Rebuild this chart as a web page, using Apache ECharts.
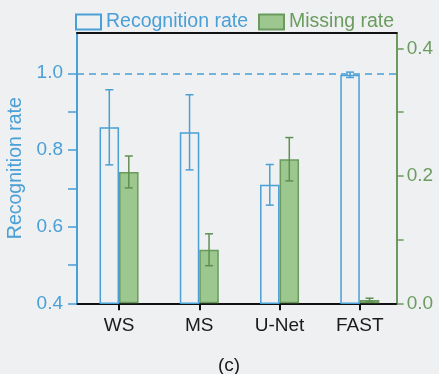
<!DOCTYPE html>
<html>
<head>
<meta charset="utf-8">
<script src="https://cdn.jsdelivr.net/npm/echarts@6/dist/echarts.min.js"></script>
<style>
  html, body { margin: 0; padding: 0; background: #eef0f2; }
  #chart { width: 439px; height: 374px; }
</style>
</head>
<body>
<div id="chart"></div>
<script>
// Methods compared
const categories = ['WS', 'MS', 'U-Net', 'FAST'];

// Recognition rate (left axis): mean and symmetric error
const recognitionRate = [0.859, 0.846, 0.709, 0.996];
const recognitionErr  = [0.098, 0.098, 0.053, 0.007];

// Missing rate (right axis): mean and symmetric error
const missingRate = [0.206, 0.084, 0.226, 0.005];
const missingErr  = [0.025, 0.025, 0.034, 0.003];

// Axis ticks and labels
const leftTicks   = [0.4, 0.5, 0.6, 0.7, 0.8, 0.9, 1.0];
const leftLabels  = [0.4, 0.6, 0.8, 1.0];
const rightTicks  = [0.0, 0.1, 0.2, 0.3, 0.4];
const rightLabels = [0.0, 0.2, 0.4];
const catPositions = [1, 2, 3, 4];

const BLUE = '#4a9fd6';
const GREEN_FILL = '#9cc78f';
const GREEN_EDGE = '#6a9b5d';
const GREEN_TEXT = '#6b9c5f';
const FONT = '"Liberation Sans", Arial, sans-serif';
const BAR_W = 19.5;
const CAP_W = 8;

const xMin = 0.476, xMax = 4.46;

function pairs(vals) {
  return vals.map((v, i) => [catPositions[i], v]);
}
function errRows(vals, errs) {
  return vals.map((v, i) => [catPositions[i], v - errs[i], v + errs[i]]);
}

function errorBar(offsetPx, color) {
  return function (params, api) {
    const x = api.value(0);
    const pLo = api.coord([x, api.value(1)]);
    const pHi = api.coord([x, api.value(2)]);
    const cx = pLo[0] + offsetPx;
    const h = CAP_W / 2;
    const style = { stroke: color, lineWidth: 1.5 };
    return {
      type: 'group',
      children: [
        { type: 'line', shape: { x1: cx, y1: pHi[1], x2: cx, y2: pLo[1] }, style: style },
        { type: 'line', shape: { x1: cx - h, y1: pHi[1], x2: cx + h, y2: pHi[1] }, style: style },
        { type: 'line', shape: { x1: cx - h, y1: pLo[1], x2: cx + h, y2: pLo[1] }, style: style }
      ]
    };
  };
}

const chart = echarts.init(document.getElementById('chart'), null, { renderer: 'canvas' });

chart.setOption({
  backgroundColor: '#eef0f2',
  animation: false,
  textStyle: { fontFamily: FONT },
  grid: { left: 77, right: 42.3, top: 33, bottom: 70.7, containLabel: false, outerBoundsMode: 'none' },
  legend: {
    left: 75,
    top: 12,
    padding: 0,
    icon: 'rect',
    itemWidth: 25,
    itemHeight: 15,
    itemGap: 10,
    textStyle: { fontSize: 19.5, fontFamily: FONT },
    data: [
      { name: 'Recognition rate', textStyle: { color: BLUE } },
      { name: 'Missing rate', textStyle: { color: GREEN_TEXT } }
    ]
  },
  xAxis: [
    {
      type: 'value',
      min: xMin,
      max: xMax,
      position: 'bottom',
      splitLine: { show: false },
      axisLine: { show: true, lineStyle: { color: '#111', width: 2 } },
      axisTick: { show: true, customValues: catPositions, length: 7, lineStyle: { color: '#111', width: 2 } },
      axisLabel: {
        customValues: catPositions,
        formatter: v => categories[Math.round(v) - 1],
        color: '#1a1a1a',
        fontSize: 19,
        fontFamily: FONT,
        margin: 13
      }
    },
    {
      type: 'value',
      min: xMin,
      max: xMax,
      position: 'top',
      splitLine: { show: false },
      axisLine: { show: true, lineStyle: { color: '#111', width: 2 } },
      axisTick: { show: false },
      axisLabel: { show: false }
    }
  ],
  yAxis: [
    {
      type: 'value',
      min: 0.4,
      max: 1.105,
      position: 'left',
      name: 'Recognition rate',
      nameLocation: 'middle',
      nameGap: 48,
      nameTextStyle: { color: BLUE, fontSize: 19.5, fontFamily: FONT },
      splitLine: { show: false },
      axisLine: { show: true, lineStyle: { color: BLUE, width: 2 } },
      axisTick: { show: true, customValues: leftTicks, length: 9, inside: false, lineStyle: { color: BLUE, width: 1.5 } },
      axisLabel: {
        customValues: leftLabels,
        formatter: v => v.toFixed(1),
        color: BLUE,
        fontSize: 19,
        fontFamily: FONT,
        margin: 14
      }
    },
    {
      type: 'value',
      min: 0,
      max: 0.424,
      position: 'right',
      splitLine: { show: false },
      axisLine: { show: true, lineStyle: { color: GREEN_EDGE, width: 2 } },
      axisTick: { show: true, customValues: rightTicks, length: 7, inside: false, lineStyle: { color: GREEN_EDGE, width: 1.5 } },
      axisLabel: {
        customValues: rightLabels,
        formatter: v => v.toFixed(1),
        color: GREEN_TEXT,
        fontSize: 19,
        fontFamily: FONT,
        margin: 10
      }
    }
  ],
  series: [
    {
      name: 'Recognition rate',
      type: 'bar',
      xAxisIndex: 0,
      yAxisIndex: 0,
      barWidth: BAR_W,
      barGap: '0%',
      clip: true,
      itemStyle: { color: 'rgba(255,255,255,0)', borderColor: BLUE, borderWidth: 1.5 },
      data: pairs(recognitionRate),
      markLine: {
        silent: true,
        symbol: 'none',
        label: { show: false },
        lineStyle: { color: BLUE, type: [7, 5], width: 1.5 },
        data: [{ yAxis: 1.0 }]
      },
      z: 2
    },
    {
      name: 'Missing rate',
      type: 'bar',
      xAxisIndex: 0,
      yAxisIndex: 1,
      barWidth: BAR_W,
      barGap: '0%',
      clip: true,
      itemStyle: { color: GREEN_FILL, borderColor: GREEN_EDGE, borderWidth: 1.5 },
      data: pairs(missingRate),
      z: 2
    },
    {
      type: 'custom',
      xAxisIndex: 0,
      yAxisIndex: 0,
      renderItem: errorBar(-BAR_W / 2, BLUE),
      encode: { x: 0, y: [1, 2] },
      data: errRows(recognitionRate, recognitionErr),
      z: 5
    },
    {
      type: 'custom',
      xAxisIndex: 0,
      yAxisIndex: 1,
      renderItem: errorBar(BAR_W / 2, '#5f8f52'),
      encode: { x: 0, y: [1, 2] },
      data: errRows(missingRate, missingErr),
      z: 5
    }
  ],
  graphic: [
    {
      type: 'text',
      left: 218,
      top: 356,
      style: { text: '(c)', fill: '#1a1a1a', font: '19px ' + FONT }
    }
  ]
});
</script>
</body>
</html>
